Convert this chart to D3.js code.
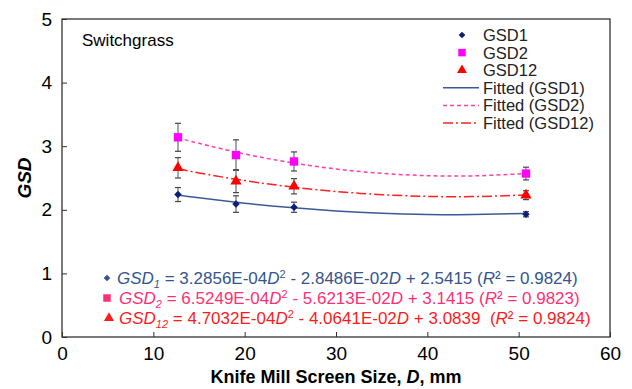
<!DOCTYPE html>
<html>
<head>
<meta charset="utf-8" />
<title>Switchgrass GSD</title>
<style>
body { margin: 0; background: #fff; }
text { font-family: "Liberation Sans", Arial, sans-serif; fill: #000; }
.axis path, .axis line { stroke: #333; }
</style>
</head>
<body>
<script src="https://cdn.jsdelivr.net/npm/d3@7"></script>
<script>
// screen sizes (mm)
var sizes = [12.7, 19.05, 25.4, 50.8];

// measured GSD values and their error bars
var gsd1 = [2.24, 2.09, 2.04, 1.93];
var gsd1Err = [0.11, 0.13, 0.08, 0.04];
var gsd2 = [3.14, 2.86, 2.76, 2.57];
var gsd2Err = [0.22, 0.24, 0.15, 0.10];
var gsd12 = [2.66, 2.45, 2.37, 2.23];
var gsd12Err = [0.16, 0.18, 0.12, 0.07];

// fitted curves
var fitD = [12.7, 15, 20, 25, 30, 35, 40, 45, 50.8];
var fit1 = [2.233, 2.188, 2.103, 2.035, 1.983, 1.947, 1.928, 1.925, 1.942];
var fit2 = [3.133, 3.045, 2.878, 2.744, 2.642, 2.573, 2.537, 2.533, 2.570];
var fit12 = [2.644, 2.580, 2.459, 2.362, 2.288, 2.238, 2.211, 2.208, 2.233];

var xTicks = [0, 10, 20, 30, 40, 50, 60];
var yTicks = [0, 1, 2, 3, 4, 5];

var width = 632, height = 389;
var margin = {left: 62, right: 22, top: 19, bottom: 52};

var svg = d3.select("body").append("svg")
    .attr("width", width)
    .attr("height", height);

var x = d3.scaleLinear().domain([0, 60]).range([margin.left, width - margin.right]);
var y = d3.scaleLinear().domain([0, 5]).range([height - margin.bottom, margin.top]);

// frame
svg.append("rect")
    .attr("x", x(0)).attr("y", y(5))
    .attr("width", x(60) - x(0)).attr("height", y(0) - y(5))
    .attr("fill", "none").attr("stroke", "#333").attr("stroke-width", 1.3);

var xAxis = svg.append("g")
    .attr("class", "axis")
    .attr("transform", "translate(0," + y(0) + ")")
    .call(d3.axisBottom(x).tickValues(xTicks).tickFormat(d3.format("d")).tickSizeInner(-5).tickSizeOuter(0).tickPadding(10));
xAxis.selectAll("text").style("font-size", "19px");
xAxis.select(".domain").remove();

var yAxis = svg.append("g")
    .attr("class", "axis")
    .attr("transform", "translate(" + x(0) + ",0)")
    .call(d3.axisLeft(y).tickValues(yTicks).tickFormat(d3.format("d")).tickSizeInner(-5).tickSizeOuter(0).tickPadding(10));
yAxis.selectAll("text").style("font-size", "19px");
yAxis.select(".domain").remove();

// axis titles
var xt = svg.append("text")
    .attr("x", (x(0) + x(60)) / 2).attr("y", 383)
    .attr("text-anchor", "middle")
    .style("font-size", "18px").style("font-weight", "bold");
xt.append("tspan").text("Knife Mill Screen Size, ");
xt.append("tspan").style("font-style", "italic").text("D");
xt.append("tspan").text(", mm");

svg.append("text")
    .attr("transform", "translate(31," + (y(2.5)) + ") rotate(-90)")
    .attr("text-anchor", "middle")
    .style("font-size", "19px").style("font-weight", "bold").style("font-style", "italic")
    .text("GSD");

svg.append("text")
    .attr("x", 82).attr("y", 46)
    .style("font-size", "17px")
    .text("Switchgrass");

var line = d3.line()
    .x(function(d) { return x(d[0]); })
    .y(function(d) { return y(d[1]); })
    .curve(d3.curveNatural);

// a square turned 45 degrees gives the diamond
var series = [
    {name: "GSD1", vals: gsd1, err: gsd1Err, fit: fit1, marker: "#0a1f7a", lineColor: "#3b5998", dash: null, shape: d3.symbolSquare, size: 28, rot: 45},
    {name: "GSD2", vals: gsd2, err: gsd2Err, fit: fit2, marker: "#ff00ff", lineColor: "#ff3fa6", dash: "4,3", shape: d3.symbolSquare, size: 70, rot: 0},
    {name: "GSD12", vals: gsd12, err: gsd12Err, fit: fit12, marker: "#ff0000", lineColor: "#ff2020", dash: "10,3,2,3", shape: d3.symbolTriangle, size: 55, rot: 0}
];

// fitted lines
series.forEach(function(s) {
    svg.append("path")
        .datum(fitD.map(function(d, i) { return [d, s.fit[i]]; }))
        .attr("fill", "none")
        .attr("stroke", s.lineColor)
        .attr("stroke-width", 1.5)
        .attr("stroke-dasharray", s.dash)
        .attr("d", line);
});

// error bars
series.forEach(function(s) {
    var g = svg.append("g");
    sizes.forEach(function(d, i) {
        var lo = y(s.vals[i] - s.err[i]), hi = y(s.vals[i] + s.err[i]);
        g.append("line")
            .attr("x1", x(d)).attr("x2", x(d)).attr("y1", lo).attr("y2", hi)
            .attr("stroke", "#8a8a8a").attr("stroke-width", 1.5);
        [lo, hi].forEach(function(yy) {
            g.append("line")
                .attr("x1", x(d) - 3).attr("x2", x(d) + 3).attr("y1", yy).attr("y2", yy)
                .attr("stroke", "#444").attr("stroke-width", 1.2);
        });
    });
});

// markers
series.forEach(function(s) {
    svg.selectAll(null)
        .data(sizes)
        .enter().append("path")
        .attr("d", d3.symbol().type(s.shape).size(s.size))
        .attr("transform", function(d, i) { return "translate(" + x(d) + "," + y(s.vals[i]) + ") rotate(" + s.rot + ")"; })
        .attr("fill", s.marker);
});

// legend
var lg = svg.append("g");
series.forEach(function(s, i) {
    var yy = 35 + i * 17.6;
    lg.append("path")
        .attr("d", d3.symbol().type(s.shape).size(s.size * 0.8))
        .attr("transform", "translate(462," + yy + ") rotate(" + s.rot + ")")
        .attr("fill", s.marker);
    lg.append("text").attr("x", 483).attr("y", yy + 6)
        .style("font-size", "16.5px").style("fill", "#222").text(s.name);
});
series.forEach(function(s, i) {
    var yy = 35 + (i + 3) * 17.6;
    lg.append("line")
        .attr("x1", 443).attr("x2", 479).attr("y1", yy).attr("y2", yy)
        .attr("stroke", s.lineColor).attr("stroke-width", 1.5)
        .attr("stroke-dasharray", s.dash);
    lg.append("text").attr("x", 483).attr("y", yy + 6)
        .style("font-size", "16.5px").style("fill", "#222").text("Fitted (" + s.name + ")");
});

// equations
var eqs = [
    {sub: "1", a: "3.2856E-04", b: "2.8486E-02", c: "2.5415", r2: "0.9824", color: "#34558f", gap: " "},
    {sub: "2", a: "6.5249E-04", b: "5.6213E-02", c: "3.1415", r2: "0.9823", color: "#ff2f74", gap: " "},
    {sub: "12", a: "4.7032E-04", b: "4.0641E-02", c: "3.0839", r2: "0.9824", color: "#ff1a1a", gap: "\u00a0\u00a0"}
];
eqs.forEach(function(e, i) {
    var yy = 278 + i * 20;
    var s = series[i];
    svg.append("path")
        .attr("d", d3.symbol().type(s.shape).size(s.size * 0.8))
        .attr("transform", "translate(" + (i === 2 ? 109 : 107) + "," + yy + ") rotate(" + s.rot + ")")
        .attr("fill", e.color);
    var t = svg.append("text")
        .attr("x", i === 0 ? 117 : 119).attr("y", yy + 6)
        .style("font-size", "17px")
        .style("fill", e.color);
    t.append("tspan").style("font-style", "italic").style("fill", e.color).text("GSD");
    t.append("tspan").style("font-style", "italic").style("font-size", "11px").attr("dy", 4).style("fill", e.color).text(e.sub);
    t.append("tspan").attr("dy", -4).style("fill", e.color).text(" = " + e.a);
    t.append("tspan").style("font-style", "italic").style("fill", e.color).text("D");
    t.append("tspan").style("font-size", "11px").attr("dy", -6).style("fill", e.color).text("2");
    t.append("tspan").attr("dy", 6).style("fill", e.color).text(" - " + e.b);
    t.append("tspan").style("font-style", "italic").style("fill", e.color).text("D");
    t.append("tspan").style("fill", e.color).text(" + " + e.c + e.gap + "(");
    t.append("tspan").style("font-style", "italic").style("fill", e.color).text("R");
    t.append("tspan").style("fill", e.color).text("\u00b2 = " + e.r2 + ")");
});
</script>
</body>
</html>
